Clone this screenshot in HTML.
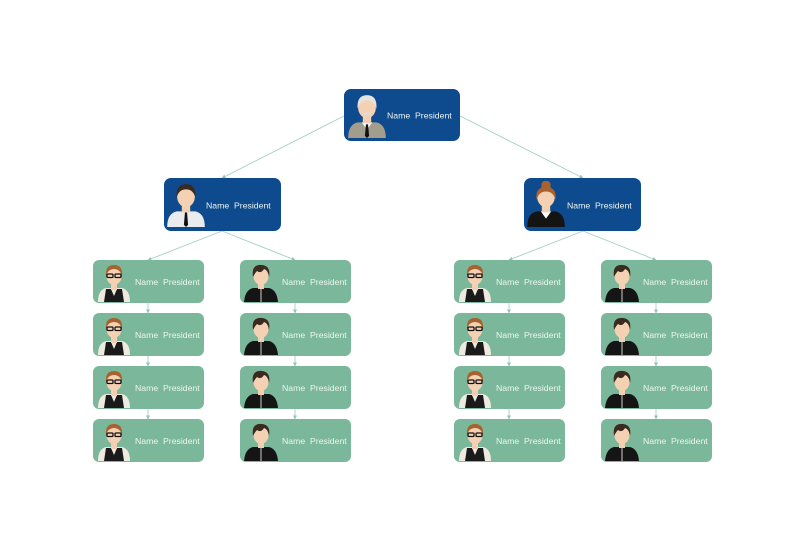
<!DOCTYPE html>
<html><head><meta charset="utf-8"><style>
html,body{margin:0;padding:0;background:#fff;}
svg{display:block;}
text{font-family:"Liberation Sans",sans-serif;font-size:8.7px;fill:#edf5f0;}
</style></head><body>
<svg width="786" height="558" viewBox="0 0 786 558" xmlns="http://www.w3.org/2000/svg">
<defs>
<marker id="ar" markerWidth="4" markerHeight="4" refX="3.5" refY="2" orient="auto" markerUnits="userSpaceOnUse">
<path d="M0,0 L4,2 L0,4 z" fill="#8ec7b4"/></marker>
<symbol id="ga" viewBox="0 0 36 40">
<path d="M2,40 Q2,28 10,26 L26,26 Q34,28 34,40z" fill="#efeadf"/>
<path d="M8,40 L10,27 L15,27 L18,34 L21,27 L26,27 L28,40z" fill="#1a1a1a"/>
<rect x="15" y="20" width="6" height="8" fill="#f2cfb2"/>
<ellipse cx="18" cy="14" rx="7.5" ry="9" fill="#f4d1b3"/>
<path d="M10,14 Q9,3 18,3 Q27,3 26,14 Q24,7 18,7 Q12,7 10,14z" fill="#a8622f"/>
<rect x="11" y="12" width="6" height="3.5" rx="1" fill="none" stroke="#111" stroke-width="1.3"/>
<rect x="19" y="12" width="6" height="3.5" rx="1" fill="none" stroke="#111" stroke-width="1.3"/>
</symbol>
<symbol id="gb" viewBox="0 0 36 40">
<path d="M1,40 Q2,28 10,26 L26,26 Q34,28 35,40z" fill="#151515"/>
<line x1="18" y1="27" x2="18" y2="40" stroke="#fff" stroke-width="0.8"/>
<rect x="15" y="20" width="6" height="7" fill="#f2cfb2"/>
<ellipse cx="18" cy="14" rx="7.5" ry="9" fill="#f4d1b3"/>
<path d="M10,15 Q8,2 19,3 Q28,4 26,15 Q25,8 21,7 Q18,12 14,9 Q12,11 10,15z" fill="#3b2a20"/>
</symbol>
<symbol id="gc" viewBox="0 0 40 44">
<path d="M2,44 Q2,31 11,29 L29,29 Q38,31 38,44z" fill="#a39d8e"/>
<path d="M15,29 L20,36 L25,29z" fill="#fff"/>
<path d="M19,31 L21,31 L22,42 L20,44 L18,42z" fill="#111"/>
<rect x="16" y="22" width="8" height="8" fill="#f2cfb2"/>
<ellipse cx="20" cy="15" rx="8.5" ry="10" fill="#f4d1b3"/>
<path d="M11,16 Q10,3 20,3 Q30,3 29,16 Q27,9 20,8 Q13,9 11,16z" fill="#e5e3dd"/>
<path d="M15,21 Q20,18 25,21 Q20,23 15,21z" fill="#ddd"/>
</symbol>
<symbol id="gd" viewBox="0 0 40 44">
<path d="M2,44 Q2,31 11,29 L29,29 Q38,31 38,44z" fill="#e9ebef"/>
<path d="M19,30 L21,30 L22,42 L20,44 L18,42z" fill="#111"/>
<rect x="16" y="22" width="8" height="8" fill="#f2cfb2"/>
<ellipse cx="20" cy="15" rx="8.5" ry="10" fill="#f4d1b3"/>
<path d="M11,16 Q10,3 20,3 Q30,3 29,16 Q27,8 20,8 Q13,8 11,16z" fill="#3b2a20"/>
</symbol>
<symbol id="ge" viewBox="0 0 40 44">
<path d="M2,44 Q2,31 11,29 L29,29 Q38,31 38,44z" fill="#141414"/>
<path d="M15,29 L20,36 L25,29z" fill="#fff"/>
<rect x="16" y="22" width="8" height="8" fill="#f2cfb2"/>
<ellipse cx="20" cy="15" rx="8.5" ry="10" fill="#f4d1b3"/>
<circle cx="20" cy="4" r="4.5" fill="#a8622f"/>
<path d="M11,18 Q9,6 20,6 Q31,6 29,18 Q27,10 20,10 Q13,10 11,18z" fill="#a8622f"/>
</symbol>
</defs>

<g stroke="#a3d0c0" stroke-width="0.9" fill="none">
<line x1="344" y1="116" x2="222" y2="178" marker-end="url(#ar)"/>
<line x1="460" y1="116" x2="583" y2="178" marker-end="url(#ar)"/>
<line x1="222" y1="231" x2="148" y2="260" marker-end="url(#ar)"/>
<line x1="222" y1="231" x2="295" y2="260" marker-end="url(#ar)"/>
<line x1="583" y1="231" x2="509" y2="260" marker-end="url(#ar)"/>
<line x1="583" y1="231" x2="656" y2="260" marker-end="url(#ar)"/>
</g>
<g stroke="#a3d0c0" stroke-width="0.9">
<line x1="148" y1="303" x2="148" y2="313" marker-end="url(#ar)"/>
<line x1="148" y1="356" x2="148" y2="366" marker-end="url(#ar)"/>
<line x1="148" y1="409" x2="148" y2="419" marker-end="url(#ar)"/>
<line x1="295" y1="303" x2="295" y2="313" marker-end="url(#ar)"/>
<line x1="295" y1="356" x2="295" y2="366" marker-end="url(#ar)"/>
<line x1="295" y1="409" x2="295" y2="419" marker-end="url(#ar)"/>
<line x1="509" y1="303" x2="509" y2="313" marker-end="url(#ar)"/>
<line x1="509" y1="356" x2="509" y2="366" marker-end="url(#ar)"/>
<line x1="509" y1="409" x2="509" y2="419" marker-end="url(#ar)"/>
<line x1="656" y1="303" x2="656" y2="313" marker-end="url(#ar)"/>
<line x1="656" y1="356" x2="656" y2="366" marker-end="url(#ar)"/>
<line x1="656" y1="409" x2="656" y2="419" marker-end="url(#ar)"/>
</g>

<rect x="344" y="89" width="116" height="52" rx="7" fill="#0d4a8e"/>
<use href="#gc" x="346" y="92" width="42" height="46"/>
<text x="387" y="118.5">Name&#160;&#160;President</text>

<rect x="164" y="178" width="117" height="53" rx="7" fill="#0d4a8e"/>
<use href="#gd" x="165" y="181" width="42" height="46"/>
<text x="206" y="208.5">Name&#160;&#160;President</text>

<rect x="524" y="178" width="117" height="53" rx="7" fill="#0d4a8e"/>
<use href="#ge" x="525" y="181" width="42" height="46"/>
<text x="567" y="208.5">Name&#160;&#160;President</text>

<g fill="#7bb89b">
<rect x="93" y="260" width="111" height="43" rx="6"/><rect x="93" y="313" width="111" height="43" rx="6"/><rect x="93" y="366" width="111" height="43" rx="6"/><rect x="93" y="419" width="111" height="43" rx="6"/>
<rect x="240" y="260" width="111" height="43" rx="6"/><rect x="240" y="313" width="111" height="43" rx="6"/><rect x="240" y="366" width="111" height="43" rx="6"/><rect x="240" y="419" width="111" height="43" rx="6"/>
<rect x="454" y="260" width="111" height="43" rx="6"/><rect x="454" y="313" width="111" height="43" rx="6"/><rect x="454" y="366" width="111" height="43" rx="6"/><rect x="454" y="419" width="111" height="43" rx="6"/>
<rect x="601" y="260" width="111" height="43" rx="6"/><rect x="601" y="313" width="111" height="43" rx="6"/><rect x="601" y="366" width="111" height="43" rx="6"/><rect x="601" y="419" width="111" height="43" rx="6"/>
</g>
<use href="#ga" x="96" y="262" width="36" height="40"/><use href="#ga" x="96" y="315" width="36" height="40"/><use href="#ga" x="96" y="368" width="36" height="40"/><use href="#ga" x="96" y="421" width="36" height="40"/>
<use href="#gb" x="243" y="262" width="36" height="40"/><use href="#gb" x="243" y="315" width="36" height="40"/><use href="#gb" x="243" y="368" width="36" height="40"/><use href="#gb" x="243" y="421" width="36" height="40"/>
<use href="#ga" x="457" y="262" width="36" height="40"/><use href="#ga" x="457" y="315" width="36" height="40"/><use href="#ga" x="457" y="368" width="36" height="40"/><use href="#ga" x="457" y="421" width="36" height="40"/>
<use href="#gb" x="604" y="262" width="36" height="40"/><use href="#gb" x="604" y="315" width="36" height="40"/><use href="#gb" x="604" y="368" width="36" height="40"/><use href="#gb" x="604" y="421" width="36" height="40"/>

<text x="135" y="285">Name&#160;&#160;President</text><text x="135" y="338">Name&#160;&#160;President</text><text x="135" y="391">Name&#160;&#160;President</text><text x="135" y="444">Name&#160;&#160;President</text>
<text x="282" y="285">Name&#160;&#160;President</text><text x="282" y="338">Name&#160;&#160;President</text><text x="282" y="391">Name&#160;&#160;President</text><text x="282" y="444">Name&#160;&#160;President</text>
<text x="496" y="285">Name&#160;&#160;President</text><text x="496" y="338">Name&#160;&#160;President</text><text x="496" y="391">Name&#160;&#160;President</text><text x="496" y="444">Name&#160;&#160;President</text>
<text x="643" y="285">Name&#160;&#160;President</text><text x="643" y="338">Name&#160;&#160;President</text><text x="643" y="391">Name&#160;&#160;President</text><text x="643" y="444">Name&#160;&#160;President</text>
</svg>
</body></html>
